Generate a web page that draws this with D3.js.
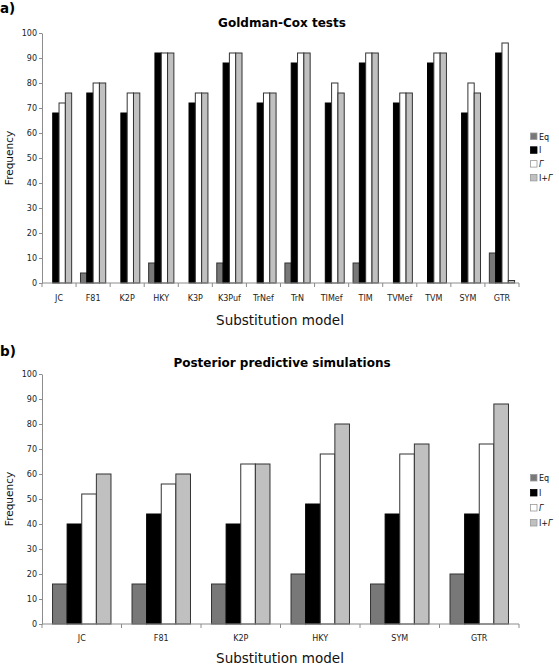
<!DOCTYPE html>
<html><head><meta charset="utf-8">
<script src="https://cdn.jsdelivr.net/npm/d3@7"></script>
<style>body{margin:0;background:#fff}svg{display:block;font-family:"DejaVu Sans",Verdana,sans-serif}</style>
</head><body>
<script>
const seriesNames = ["Eq", "I", "Γ", "I+Γ"];
const seriesColors = ["#787878", "#000000", "#ffffff", "#c0c0c0"];

const modelsA = ["JC","F81","K2P","HKY","K3P","K3Puf","TrNef","TrN","TIMef","TIM","TVMef","TVM","SYM","GTR"];
const eqA   = [0, 4, 0, 8, 0, 8, 0, 8, 0, 8, 0, 0, 0, 12];
const iA    = [68, 76, 68, 92, 72, 88, 72, 88, 72, 88, 72, 88, 68, 92];
const gA    = [72, 80, 76, 92, 76, 92, 76, 92, 80, 92, 76, 92, 80, 96];
const igA   = [76, 80, 76, 92, 76, 92, 76, 92, 76, 92, 76, 92, 76, 1];

const modelsB = ["JC","F81","K2P","HKY","SYM","GTR"];
const eqB   = [16, 16, 16, 20, 16, 20];
const iB    = [40, 44, 40, 48, 44, 44];
const gB    = [52, 56, 64, 68, 68, 72];
const igB   = [60, 60, 64, 80, 72, 88];

const yTicks = [0,10,20,30,40,50,60,70,80,90,100];

const W = 559, H = 670;
const svg = d3.select("body").append("svg").attr("width", W).attr("height", H);

function legendLabel(sel, s) {
  if (s === "Γ") {
    sel.append("tspan").attr("font-style", "italic").text("Γ");
  } else if (s === "I+Γ") {
    sel.append("tspan").text("I+");
    sel.append("tspan").attr("font-style", "italic").text("Γ");
  } else {
    sel.text(s);
  }
}

function panel(cfg) {
  const g = svg.append("g");
  const x0 = d3.scaleBand().domain(cfg.models).range([42, 519]).paddingInner(0).paddingOuter(0);
  const x1 = d3.scaleBand().domain(seriesNames).range([0, x0.bandwidth()]).paddingOuter(cfg.outerPad).paddingInner(0);
  const y = d3.scaleLinear().domain([0, 100]).range([cfg.y0, cfg.y0 - 250]);
  const series = [cfg.eq, cfg.i, cfg.g, cfg.ig];

  g.append("text").attr("x", 0).attr("y", cfg.labelY).attr("font-weight", "bold").attr("font-size", 13.5).text(cfg.label);
  g.append("text").attr("x", 282).attr("y", cfg.titleY).attr("text-anchor", "middle").attr("font-weight", "bold").attr("font-size", 12).text(cfg.title);

  const ya = g.append("g").attr("transform", "translate(42,0)")
    .call(d3.axisLeft(y).tickValues(yTicks).tickSize(3).tickSizeOuter(0).tickPadding(2));
  ya.select(".domain").attr("stroke", "#8c8c8c");
  ya.selectAll(".tick line").attr("stroke", "#8c8c8c");
  ya.selectAll("text").attr("font-size", 8).attr("fill", "#222").attr("font-family", "DejaVu Sans");

  cfg.models.forEach((m, mi) => {
    series.forEach((arr, si) => {
      const v = arr[mi];
      if (v <= 0) return;
      g.append("rect")
        .attr("x", x0(m) + x1(seriesNames[si]))
        .attr("y", y(v))
        .attr("width", x1.bandwidth())
        .attr("height", y(0) - y(v))
        .attr("fill", seriesColors[si])
        .attr("stroke", si === 1 ? "#000" : "#333")
        .attr("stroke-width", 1);
    });
  });

  const xa = g.append("g").attr("transform", `translate(0,${cfg.y0})`);
  xa.append("line").attr("x1", 42).attr("x2", 519).attr("stroke", "#8c8c8c");
  const bounds = cfg.models.map(m => x0(m)).concat([519]);
  xa.selectAll("line.tk").data(bounds).join("line").attr("class", "tk")
    .attr("x1", d => d).attr("x2", d => d).attr("y1", 0).attr("y2", 4).attr("stroke", "#8c8c8c");
  xa.selectAll("text").data(cfg.models).join("text")
    .attr("x", d => x0(d) + x0.bandwidth() / 2).attr("y", cfg.tickLabelY - cfg.y0)
    .attr("text-anchor", "middle").attr("font-size", 8).attr("fill", "#222").text(d => d);

  g.append("text").attr("x", 280).attr("y", cfg.xTitleY).attr("text-anchor", "middle").attr("font-size", 13.5).attr("fill", "#111").text("Substitution model");
  g.append("text").attr("transform", `translate(13,${cfg.y0 - 125}) rotate(-90)`).attr("text-anchor", "middle").attr("font-size", 10.5).attr("fill", "#111").text("Frequency");

  const lg = g.append("g");
  seriesNames.forEach((s, si) => {
    const ly = cfg.legY + si * cfg.legStep;
    lg.append("rect").attr("x", 530.5).attr("y", ly - 3.5).attr("width", 6.5).attr("height", 6.5)
      .attr("fill", seriesColors[si]).attr("stroke", si === 1 ? "#000" : "#999").attr("stroke-width", 0.8);
    const t = lg.append("text").attr("x", 539).attr("y", ly + 3).attr("font-size", 8).attr("fill", "#111");
    legendLabel(t, s);
  });
}

panel({label: "a)", labelY: 13, title: "Goldman-Cox tests", titleY: 27, models: modelsA,
  eq: eqA, i: iA, g: gA, ig: igA, y0: 283, outerPad: 0.7, tickLabelY: 301, xTitleY: 325,
  legY: 136.5, legStep: 13.8});
panel({label: "b)", labelY: 356, title: "Posterior predictive simulations", titleY: 367, models: modelsB,
  eq: eqB, i: iB, g: gB, ig: igB, y0: 624, outerPad: 0.72, tickLabelY: 641, xTitleY: 663,
  legY: 478, legStep: 15});
</script>
</body></html>
